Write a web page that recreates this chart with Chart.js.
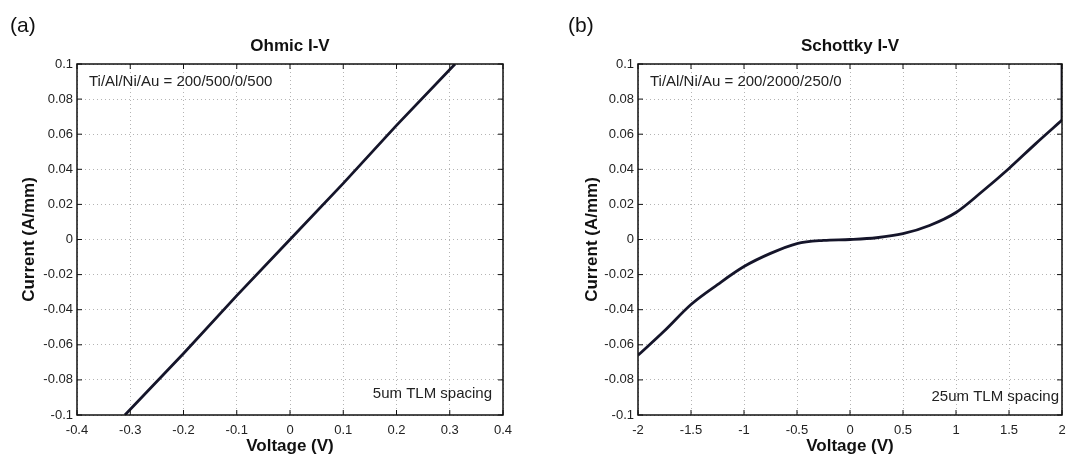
<!DOCTYPE html>
<html>
<head>
<meta charset="utf-8">
<script src="https://cdn.jsdelivr.net/npm/chart.js@4.4.0/dist/chart.umd.min.js"></script>
<style>
  body { margin: 0; background: #fff; }
  .panel { position: absolute; top: 0; height: 464px; }
  #panelA { left: 0; width: 533px; }
  #panelB { left: 533px; width: 534px; }
</style>
</head>
<body>
<div class="panel" id="panelA"><canvas id="ohmicChart"></canvas></div>
<div class="panel" id="panelB"><canvas id="schottkyChart"></canvas></div>
<script>
// data
const ohmicVoltage = [-0.31, -0.2, -0.1, 0, 0.1, 0.2, 0.31];
const ohmicCurrent = [-0.1, -0.065, -0.032, 0, 0.032, 0.065, 0.1];

const schottkyVoltage = [-2, -1.75, -1.5, -1.25, -1, -0.75, -0.5, -0.25, 0, 0.25, 0.5, 0.75, 1, 1.25, 1.5, 1.75, 2];
const schottkyCurrent = [-0.066, -0.052, -0.037, -0.0257, -0.0154, -0.0079, -0.0023, -0.0005, 0, 0.001, 0.0033, 0.008, 0.0154, 0.0275, 0.0405, 0.0545, 0.068];
// the sweep jumps up at the right edge
const schottkyEdgeVoltage = [2, 2];
const schottkyEdgeCurrent = [0.068, 0.1];

const ohmicTicksX = { min: -0.4, max: 0.4, step: 0.1 };
const schottkyTicksX = { min: -2, max: 2, step: 0.5 };
const currentTicks = { min: -0.1, max: 0.1, step: 0.02 };

const FONT = '"Liberation Sans", Arial, sans-serif';
const LINE_COLOR = '#15152a';

function toPoints(xs, ys) {
    return xs.map((v, i) => ({ x: v, y: ys[i] }));
}

function fmt(v) {
    return String(+v.toFixed(3));
}

// frame, inward ticks and the text labels (MATLAB look)
const matlabFrame = {
    id: 'matlabFrame',
    afterDatasetsDraw(chart, args, opts) {
        const { ctx, chartArea: a, scales: { x, y } } = chart;
        ctx.save();
        ctx.strokeStyle = '#111';
        ctx.lineWidth = 1.5;
        ctx.strokeRect(a.left, a.top, a.right - a.left, a.bottom - a.top);

        ctx.lineWidth = 1;
        ctx.beginPath();
        x.ticks.forEach(t => {
            const px = x.getPixelForValue(t.value);
            ctx.moveTo(px, a.bottom); ctx.lineTo(px, a.bottom - 5);
            ctx.moveTo(px, a.top); ctx.lineTo(px, a.top + 5);
        });
        y.ticks.forEach(t => {
            const py = y.getPixelForValue(t.value);
            ctx.moveTo(a.left, py); ctx.lineTo(a.left + 5, py);
            ctx.moveTo(a.right, py); ctx.lineTo(a.right - 5, py);
        });
        ctx.stroke();

        ctx.fillStyle = '#111';
        ctx.textBaseline = 'middle';
        ctx.font = '21px ' + FONT;
        ctx.textAlign = 'left';
        ctx.fillText(opts.panel, opts.panelX, 26);

        ctx.font = 'bold 17px ' + FONT;
        ctx.textAlign = 'center';
        ctx.fillText(opts.title, (a.left + a.right) / 2, 46);

        ctx.fillStyle = '#222';
        ctx.font = '15px ' + FONT;
        ctx.textAlign = 'left';
        ctx.fillText(opts.note, a.left + 12, a.top + 18);
        ctx.textAlign = 'right';
        ctx.fillText(opts.spacing, a.right - opts.spacingPad, a.bottom - opts.spacingUp);
        ctx.restore();
    }
};

function buildPanel(canvasId, datasets, ticksX, yWidth, yTitlePad, rightPad, text) {
    return new Chart(document.getElementById(canvasId), {
        type: 'line',
        data: { datasets: datasets },
        plugins: [matlabFrame],
        options: {
            responsive: true,
            maintainAspectRatio: false,
            animation: false,
            layout: { padding: { top: 64, left: 0, right: rightPad, bottom: 0 } },
            elements: { point: { radius: 0 } },
            plugins: {
                legend: { display: false },
                tooltip: { enabled: false },
                matlabFrame: text
            },
            scales: {
                x: {
                    type: 'linear',
                    min: ticksX.min,
                    max: ticksX.max,
                    afterFit: s => { s.height = 49; s.paddingLeft = 0; s.paddingRight = 0; },
                    grid: { color: 'rgba(130,130,130,0.6)', lineWidth: 1, drawTicks: false },
                    border: { display: false, dash: [1, 3] },
                    ticks: {
                        stepSize: ticksX.step,
                        autoSkip: false,
                        maxRotation: 0,
                        padding: 8,
                        color: '#222',
                        font: { family: FONT, size: 13 },
                        callback: v => fmt(v)
                    },
                    title: {
                        display: true,
                        text: 'Voltage (V)',
                        color: '#111',
                        font: { family: FONT, size: 17, weight: 'bold' },
                        padding: { top: 0, bottom: 7 }
                    }
                },
                y: {
                    type: 'linear',
                    min: currentTicks.min,
                    max: currentTicks.max,
                    afterFit: s => { s.width = yWidth; },
                    grid: { color: 'rgba(130,130,130,0.6)', lineWidth: 1, drawTicks: false },
                    border: { display: false, dash: [1, 3] },
                    ticks: {
                        stepSize: currentTicks.step,
                        autoSkip: false,
                        padding: 4,
                        color: '#222',
                        font: { family: FONT, size: 13 },
                        callback: v => fmt(v)
                    },
                    title: {
                        display: true,
                        text: 'Current (A/mm)',
                        color: '#111',
                        font: { family: FONT, size: 17, weight: 'bold' },
                        padding: { top: yTitlePad, bottom: 0 }
                    }
                }
            }
        }
    });
}

buildPanel('ohmicChart', [{
    data: toPoints(ohmicVoltage, ohmicCurrent),
    borderColor: LINE_COLOR,
    borderWidth: 2.8,
    tension: 0
}], ohmicTicksX, 77, 19, 30, {
    panel: '(a)', panelX: 10, title: 'Ohmic I-V',
    note: 'Ti/Al/Ni/Au = 200/500/0/500',
    spacing: '5um TLM spacing', spacingPad: 11, spacingUp: 21
});

buildPanel('schottkyChart', [{
    data: toPoints(schottkyVoltage, schottkyCurrent),
    borderColor: LINE_COLOR,
    borderWidth: 2.8,
    cubicInterpolationMode: 'monotone'
}, {
    data: toPoints(schottkyEdgeVoltage, schottkyEdgeCurrent),
    borderColor: LINE_COLOR,
    borderWidth: 2.8,
    tension: 0
}], schottkyTicksX, 105, 49, 5, {
    panel: '(b)', panelX: 35, title: 'Schottky I-V',
    note: 'Ti/Al/Ni/Au = 200/2000/250/0',
    spacing: '25um TLM spacing', spacingPad: 3, spacingUp: 18
});
</script>
</body>
</html>
